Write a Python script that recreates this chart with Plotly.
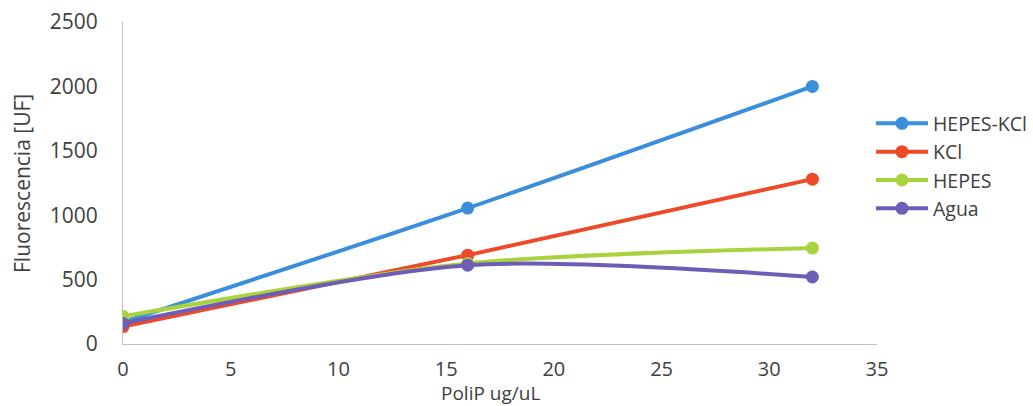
import plotly.graph_objects as go

# PoliP concentration (ug/uL)
polip = [0, 16, 32]

# Fluorescence readings (UF) for each buffer
hepes_kcl = [170, 1055, 2000]
kcl = [135, 690, 1280]
hepes = [215, 625, 745]
agua = [160, 612, 520]

series_names = ["HEPES-KCl", "KCl", "HEPES", "Agua"]
series_values = [hepes_kcl, kcl, hepes, agua]
series_colors = ["#3B8EDB", "#EE4A2A", "#A8D23E", "#6E5DB6"]

x_ticks = [0, 5, 10, 15, 20, 25, 30, 35]
y_ticks = [0, 500, 1000, 1500, 2000, 2500]

FONT = "Open Sans, Lato, sans-serif"
TEXT = "#404040"

fig = go.Figure()
for name, vals, col in zip(series_names, series_values, series_colors):
    fig.add_trace(go.Scatter(
        x=polip, y=vals, name=name, mode="lines+markers",
        line=dict(color=col, width=4, shape="spline", smoothing=0.8),
        marker=dict(color=col, size=13),
    ))

fig.update_layout(
    width=1033, height=406,
    margin=dict(l=123, r=156, t=22, b=62, autoexpand=False),
    paper_bgcolor="white", plot_bgcolor="white",
    font=dict(family=FONT, size=21, color=TEXT),
    showlegend=True,
    legend=dict(
        x=0.992, xanchor="left", y=0.745, yanchor="top",
        font=dict(family=FONT, size=19.5, color=TEXT),
        itemwidth=52, tracegroupgap=0,
        bgcolor="rgba(0,0,0,0)",
    ),
    annotations=[
        dict(text="PoliP ug/uL", xref="paper", yref="paper",
             x=0.487, y=-0.152, xanchor="center", yanchor="middle",
             showarrow=False, font=dict(family=FONT, size=19, color=TEXT)),
        dict(text="Fluorescencia [UF]", xref="paper", yref="paper",
             x=-0.134, y=0.5, xanchor="center", yanchor="middle", textangle=-90,
             showarrow=False, font=dict(family=FONT, size=21, color=TEXT)),
    ],
)

fig.update_xaxes(
    range=[0, 35], tickvals=x_ticks, ticktext=[str(v) for v in x_ticks],
    showgrid=False, zeroline=False, showline=True, linecolor="#BFBFBF", linewidth=1,
    ticks="", tickfont=dict(size=20, color=TEXT), ticklabelstandoff=7,
)
fig.update_yaxes(
    range=[0, 2500], tickvals=y_ticks, ticktext=[str(v) for v in y_ticks],
    showgrid=False, zeroline=False, showline=True, linecolor="#BFBFBF", linewidth=1,
    ticks="", tickfont=dict(size=21, color=TEXT), ticklabelstandoff=20,
)

fig.write_html("out.html")
